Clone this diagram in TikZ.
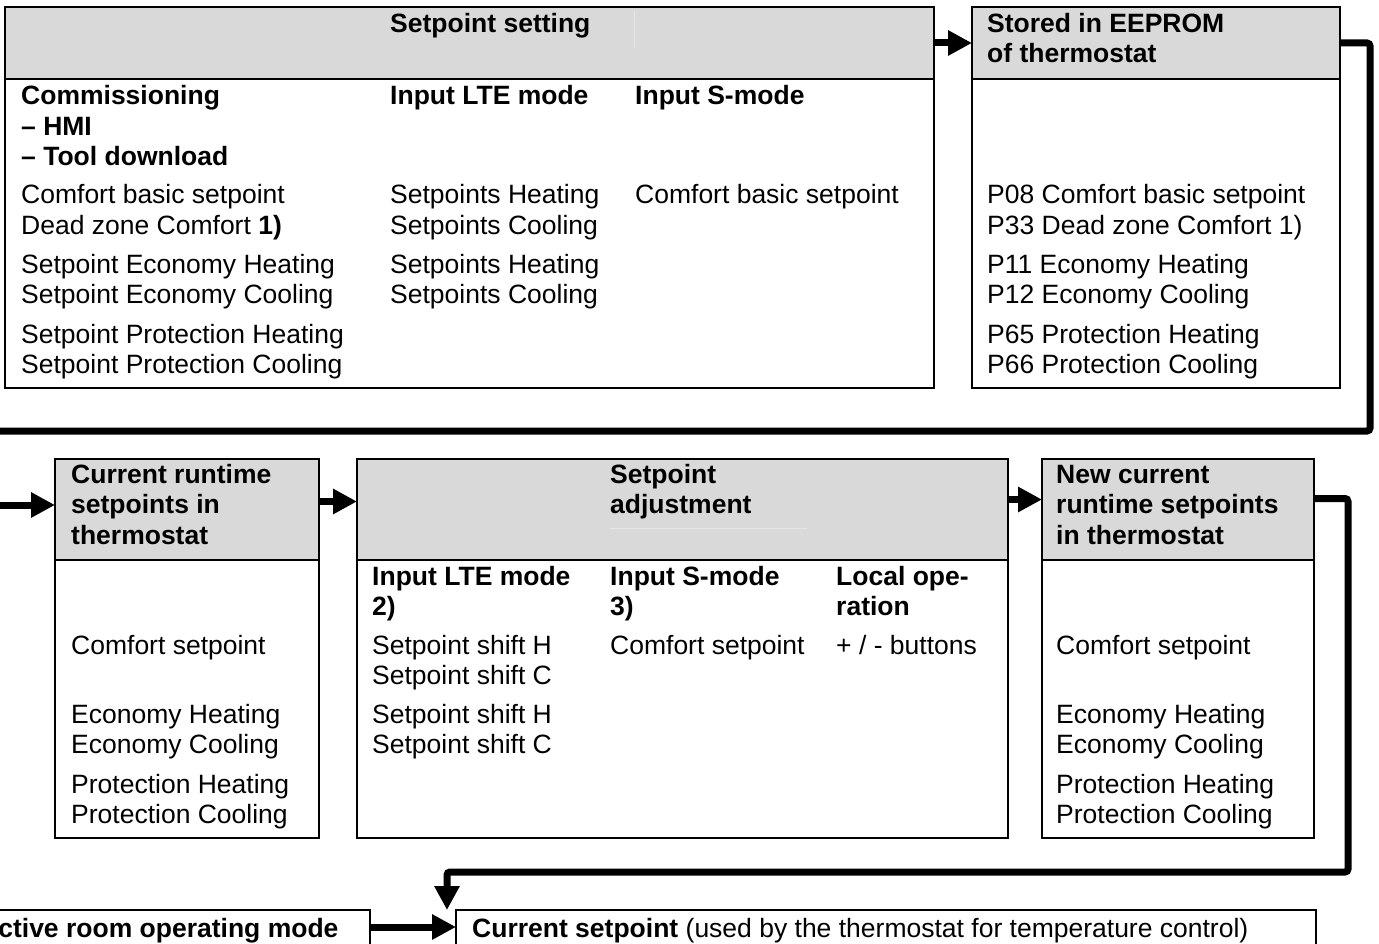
\documentclass[tikz,border=0pt]{standalone}
\usepackage{fontspec}
\setmainfont{Liberation Sans}
\usetikzlibrary{arrows.meta}
\definecolor{hdgray}{HTML}{D9D9D9}
\definecolor{faintgray}{HTML}{E6E6E6}
\begin{document}
\begin{tikzpicture}[x=1pt,y=-1pt,
  bx/.style={draw, line width=2pt, anchor=north west, inner sep=0pt, outer sep=0pt},
  hd/.style={bx, fill=hdgray},
  txt/.style={anchor=base west, inner sep=0pt, font=\fontsize{26.5}{30.5}\selectfont},
  bt/.style={anchor=base west, inner sep=0pt, font=\fontsize{26.5}{30.5}\selectfont\bfseries},
  conn/.style={line width=7pt, rounded corners=3pt},
  arr/.style={conn, -{Triangle[length=24pt,width=24pt]}},
  faint/.style={draw=faintgray, line width=1pt}]
\useasboundingbox (0,0) rectangle (1379,944);

% ---------- boxes ----------
\node[bx, minimum width=929pt, minimum height=309pt] (Abody) at (5,79) {};
\node[hd, minimum width=929pt, minimum height=72pt] (Ahead) at (5,7) {};
\node[bx, minimum width=368pt, minimum height=309pt] (Bbody) at (972,79) {};
\node[hd, minimum width=368pt, minimum height=72pt] (Bhead) at (972,7) {};

\node[bx, minimum width=264pt, minimum height=278pt] (Cbody) at (55,560) {};
\node[hd, minimum width=264pt, minimum height=101pt] (Chead) at (55,459) {};
\node[bx, minimum width=651pt, minimum height=278pt] (Dbody) at (357,560) {};
\node[hd, minimum width=651pt, minimum height=101pt] (Dhead) at (357,459) {};
\node[bx, minimum width=272pt, minimum height=278pt] (Ebody) at (1042,560) {};
\node[hd, minimum width=272pt, minimum height=101pt] (Ehead) at (1042,459) {};

\node[bx, minimum width=380pt, minimum height=60pt] (Fbox) at (-10,910) {};
\node[bx, minimum width=860pt, minimum height=60pt] (Gbox) at (456,910) {};

% faint artefact lines in headers
\draw[faint] (634,10) -- (634,48);
\draw[faint] (610,528) -- (807,528);

% ---------- connectors ----------
\coordinate (exitL) at (-10,431);
\coordinate (entL) at (-10,505);
\coordinate (gtop) at (447,910);
\draw[arr] (Ahead.east) -- (Bhead.west);
\draw[conn] (Bhead.east) -| (1370,431) -- (exitL);
\draw[arr] (entL) -- ([yshift=4.5pt]Chead.west);
\draw[arr] ([yshift=8pt]Chead.east) -- ([yshift=8pt]Dhead.west);
\draw[arr] ([yshift=10pt]Dhead.east) -- ([yshift=10pt]Ehead.west);
\draw[arr] ([yshift=11pt]Ehead.east) -| (1348,872) -| (gtop);
\draw[arr] ([yshift=13pt]Fbox.east) -- ([yshift=13pt]Gbox.west);

% ---------- box A text ----------
\node[bt] (aT) at (390,33) {Setpoint setting};
\node[bt] (a1) at (21,105) {Commissioning};
\node[bt] (a2) at (21,135.5) {– HMI};
\node[bt] (a3) at (21,166) {– Tool download};
\node[txt] (a4) at (21,204) {Comfort basic setpoint};
\node[txt] (a5) at (21,234.5) {Dead zone Comfort \textbf{1)}};
\node[txt] (a6) at (21,273) {Setpoint Economy Heating};
\node[txt] (a7) at (21,303.5) {Setpoint Economy Cooling};
\node[txt] (a8) at (21,343) {Setpoint Protection Heating};
\node[txt] (a9) at (21,373.5) {Setpoint Protection Cooling};
\node[bt] (b1) at (390,105) {Input LTE mode};
\node[txt] (b2) at (390,204) {Setpoints Heating};
\node[txt] (b3) at (390,234.5) {Setpoints Cooling};
\node[txt] (b4) at (390,273) {Setpoints Heating};
\node[txt] (b5) at (390,303.5) {Setpoints Cooling};
\node[bt] (c1) at (635,105) {Input S-mode};
\node[txt] (c2) at (635,204) {Comfort basic setpoint};

% ---------- box B text ----------
\node[bt] (e1) at (987,33) {Stored in EEPROM};
\node[bt] (e2) at (987,63) {of thermostat};
\node[txt] (e3) at (987,204) {P08 Comfort basic setpoint};
\node[txt] (e4) at (987,234.5) {P33 Dead zone Comfort 1)};
\node[txt] (e5) at (987,273) {P11 Economy Heating};
\node[txt] (e6) at (987,303.5) {P12 Economy Cooling};
\node[txt] (e7) at (987,343) {P65 Protection Heating};
\node[txt] (e8) at (987,373.5) {P66 Protection Cooling};

% ---------- box C text ----------
\node[bt] (f1) at (71,483) {Current runtime};
\node[bt] (f2) at (71,513.5) {setpoints in};
\node[bt] (f3) at (71,544) {thermostat};
\node[txt] (f4) at (71,654) {Comfort setpoint};
\node[txt] (f5) at (71,723) {Economy Heating};
\node[txt] (f6) at (71,753.5) {Economy Cooling};
\node[txt] (f7) at (71,793) {Protection Heating};
\node[txt] (f8) at (71,823.5) {Protection Cooling};

% ---------- box D text ----------
\node[bt] (g1) at (610,483) {Setpoint};
\node[bt] (g2) at (610,513.5) {adjustment};
\node[bt] (h1) at (372,585) {Input LTE mode};
\node[bt] (h2) at (372,615.5) {2)};
\node[txt] (h3) at (372,654) {Setpoint shift H};
\node[txt] (h4) at (372,684.5) {Setpoint shift C};
\node[txt] (h5) at (372,723) {Setpoint shift H};
\node[txt] (h6) at (372,753.5) {Setpoint shift C};
\node[bt] (i1) at (610,585) {Input S-mode};
\node[bt] (i2) at (610,615.5) {3)};
\node[txt] (i3) at (610,654) {Comfort setpoint};
\node[bt] (j1) at (836,585) {Local ope-};
\node[bt] (j2) at (836,615.5) {ration};
\node[txt] (j3) at (836,654) {+ / - buttons};

% ---------- box E text ----------
\node[bt] (k1) at (1056,483) {New current};
\node[bt] (k2) at (1056,513.5) {runtime setpoints};
\node[bt] (k3) at (1056,544) {in thermostat};
\node[txt] (k4) at (1056,654) {Comfort setpoint};
\node[txt] (k5) at (1056,723) {Economy Heating};
\node[txt] (k6) at (1056,753.5) {Economy Cooling};
\node[txt] (k7) at (1056,793) {Protection Heating};
\node[txt] (k8) at (1056,823.5) {Protection Cooling};

% ---------- bottom ----------
\node[bt] (m1) at (-21,937) {Active room operating mode};
\node[txt] (n1) at (472,937) {\textbf{Current setpoint} (used by the thermostat for temperature control)};
\end{tikzpicture}
\end{document}
